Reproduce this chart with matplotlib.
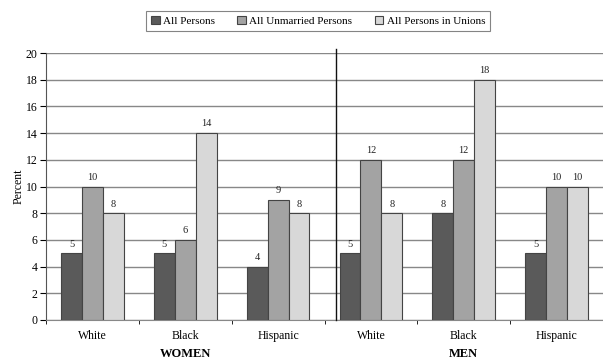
import matplotlib
matplotlib.use("Agg")
import matplotlib.pyplot as plt
import numpy as np

plt.rcParams['font.family'] = ['Liberation Serif', 'DejaVu Serif']

categories = ["White", "Black", "Hispanic", "White", "Black", "Hispanic"]
groups = ["WOMEN", "MEN"]
series_names = ["All Persons", "All Unmarried Persons", "All Persons in Unions"]
all_persons = [5, 5, 4, 5, 8, 5]
unmarried = [10, 6, 9, 12, 12, 10]
unions = [8, 14, 8, 8, 18, 10]
colors = ["#5a5a5a", "#a3a3a3", "#d8d8d8"]

fig = plt.figure(figsize=(6.03, 3.6), dpi=100)
ax = fig.add_axes([46/603, 1-320/360, (603-46)/603, (320-53)/360])

x = np.arange(len(categories))
w = 0.225
for i, (vals, c, name) in enumerate(zip([all_persons, unmarried, unions], colors, series_names)):
    pos = x + (i - 1) * w
    ax.bar(pos, vals, w, color=c, edgecolor="#444444", linewidth=0.8, label=name, zorder=3)
    for p, v in zip(pos, vals):
        ax.text(p, v + 0.35, str(v), ha="center", va="bottom", fontsize=7.5, color="#222222", zorder=4)

ax.set_xlim(-0.5, len(categories) - 0.5)
ax.set_ylim(0, 20)
ax.set_yticks(np.arange(0, 21, 2))
ax.tick_params(axis="y", labelsize=8.5, length=4, width=0.8, direction="out", pad=2)
ax.set_xticks(x)
ax.set_xticklabels(categories, fontsize=8.5)
ax.tick_params(axis="x", length=0, pad=7)
ax.set_xticks(np.arange(-0.5, len(categories), 1.0), minor=True)
ax.tick_params(axis="x", which="minor", length=3, width=0.6, direction="out")
ax.yaxis.grid(True, color="#888888", linewidth=1.0, zorder=0)
ax.set_axisbelow(True)
for s in ["top", "right"]:
    ax.spines[s].set_visible(False)
ax.spines["left"].set_color("#555555")
ax.spines["bottom"].set_color("#888888")
ax.set_ylabel("Percent", fontsize=8.5, labelpad=1)

# divider between groups
ax.plot([2.62, 2.62], [0, 20.3], color="#111111", linewidth=1.0, clip_on=False, zorder=5)

# group labels
gy = 1 - 354/360
fig.text(ax.transData.transform((1, 0))[0] / fig.bbox.width, gy, groups[0],
         ha="center", va="center", fontsize=9, fontweight="bold")
fig.text(ax.transData.transform((4, 0))[0] / fig.bbox.width, gy, groups[1],
         ha="center", va="center", fontsize=9, fontweight="bold")

leg = fig.legend(loc="center", bbox_to_anchor=(318/603, 1-21/360), ncol=3, fontsize=8,
                 frameon=True, fancybox=False, edgecolor="#666666", handlelength=0.8,
                 handleheight=0.8, columnspacing=2.0, handletextpad=0.3, borderpad=0.45)
leg.get_frame().set_linewidth(0.8)

fig.savefig("out.png", dpi=100)
